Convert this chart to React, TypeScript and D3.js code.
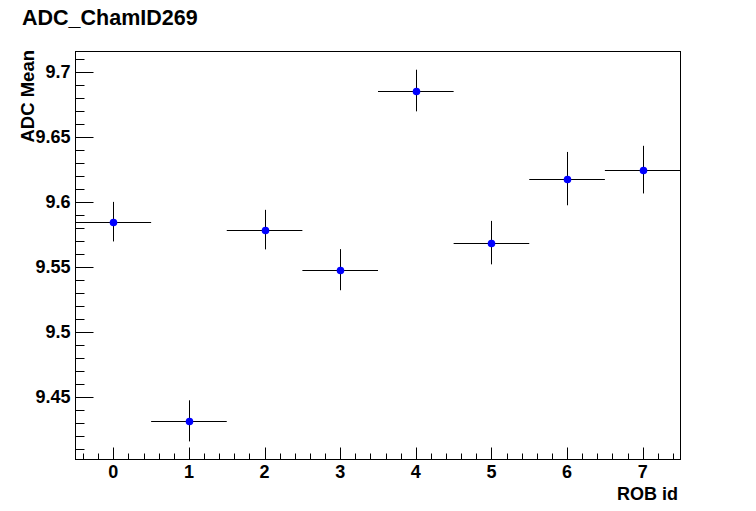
import React from "react";
import * as d3 from "d3";

const robIds = [0, 1, 2, 3, 4, 5, 6, 7];
const adcMean = [9.5846, 9.4315, 9.5785, 9.5477, 9.6854, 9.5685, 9.6177, 9.6246];
const adcErr = [0.0152, 0.0158, 0.0152, 0.0158, 0.016, 0.0167, 0.0205, 0.0183];
const yTickValues = [9.45, 9.5, 9.55, 9.6, 9.65, 9.7];
const xTickValues = [0, 1, 2, 3, 4, 5, 6, 7];

const W = 756;
const H = 511;
const left = 75.5;
const right = 680.5;
const top = 51.5;
const bottom = 459.5;

export default function App() {
  const x = d3.scaleLinear().domain([-0.5, 7.5]).range([left, right]);
  const y = d3.scaleLinear().domain([9.4018, 9.7154]).range([bottom, top]);

  const yMinor = d3.range(9.41, 9.715, 0.01).map((v) => Math.round(v * 100) / 100);
  const xMinor = d3.range(-0.4, 7.5, 0.2).map((v) => Math.round(v * 10) / 10);
  const font = "Liberation Sans, Arial, Helvetica, sans-serif";

  return (
    <svg width={W} height={H} style={{ position: "absolute", left: 0, top: 0 }}>
      <rect x={0} y={0} width={W} height={H} fill="white" />
      <text x={22} y={24.5} fontFamily={font} fontWeight="bold" fontSize={21.5} fill="black">
        ADC_ChamID269
      </text>
      {yMinor.map((v, i) => (
        <line key={"ym" + i} x1={left} x2={left + 9} y1={Math.round(y(v)) + 0.5} y2={Math.round(y(v)) + 0.5} stroke="black" strokeWidth={1} />
      ))}
      {yTickValues.map((v, i) => (
        <g key={"yt" + i}>
          <line x1={left} x2={left + 18} y1={Math.round(y(v)) + 0.5} y2={Math.round(y(v)) + 0.5} stroke="black" strokeWidth={1} />
          <text x={70.5} y={y(v) + 6.5} textAnchor="end" fontFamily={font} fontWeight="bold" fontSize={18} fill="black">
            {d3.format("")(v)}
          </text>
        </g>
      ))}
      {xMinor.map((v, i) => (
        <line key={"xm" + i} x1={Math.round(x(v)) + 0.5} x2={Math.round(x(v)) + 0.5} y1={bottom} y2={bottom - 6} stroke="black" strokeWidth={1} />
      ))}
      {xTickValues.map((v, i) => (
        <g key={"xt" + i}>
          <line x1={Math.round(x(v)) + 0.5} x2={Math.round(x(v)) + 0.5} y1={bottom} y2={bottom - 12} stroke="black" strokeWidth={1} />
          <text x={x(v)} y={478} textAnchor="middle" fontFamily={font} fontWeight="bold" fontSize={18} fill="black">
            {v}
          </text>
        </g>
      ))}
      <rect x={left} y={top} width={right - left} height={bottom - top} fill="none" stroke="black" strokeWidth={1} />
      <text x={678} y={499.5} textAnchor="end" fontFamily={font} fontWeight="bold" fontSize={18} fill="black">
        ROB id
      </text>
      <text transform={`translate(34,50) rotate(-90)`} textAnchor="end" fontFamily={font} fontWeight="bold" fontSize={18.5} fill="black">
        ADC Mean
      </text>
      {robIds.map((id, i) => {
        const cx = x(id);
        const cy = y(adcMean[i]);
        return (
          <g key={"p" + i}>
            <line x1={x(id - 0.5)} x2={x(id + 0.5)} y1={Math.round(cy) + 0.5} y2={Math.round(cy) + 0.5} stroke="black" strokeWidth={1} />
            <line x1={Math.round(cx) + 0.5} x2={Math.round(cx) + 0.5} y1={y(adcMean[i] + adcErr[i])} y2={y(adcMean[i] - adcErr[i])} stroke="black" strokeWidth={1} />
            <circle cx={Math.round(cx) + 0.5} cy={Math.round(cy) + 0.5} r={3.8} fill="#0000ff" />
          </g>
        );
      })}
    </svg>
  );
}
